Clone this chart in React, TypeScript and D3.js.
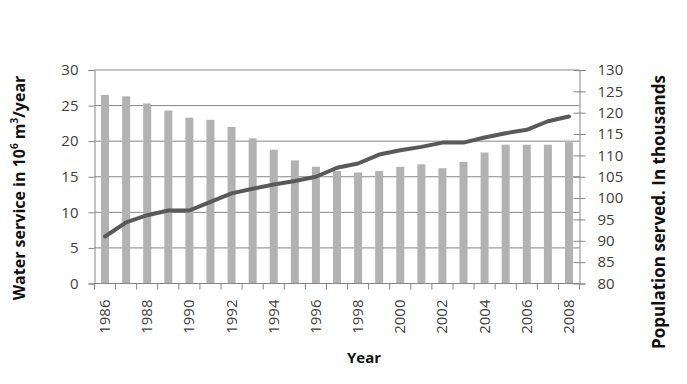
import { useEffect, useRef } from 'react'
import * as d3 from 'd3'

// data
const years = d3.range(1986, 2009).map(String)
const waterService = [26.5, 26.3, 25.3, 24.3, 23.3, 23.0, 22.0, 20.4, 18.8, 17.3, 16.4, 15.8, 15.6, 15.8, 16.4, 16.75, 16.2, 17.1, 18.4, 19.5, 19.5, 19.5, 19.85]
const population = [91, 94.3, 96, 97.1, 97.1, 99.1, 101.1, 102.2, 103.2, 104, 105, 107.1, 108.1, 110.2, 111.2, 112, 113, 113, 114.2, 115.2, 116, 118, 119.1]
const leftTicks = [0, 5, 10, 15, 20, 25, 30]
const rightTicks = [80, 85, 90, 95, 100, 105, 110, 115, 120, 125, 130]

const FONT = "'Open Sans', 'Noto Sans', sans-serif"

export default function App() {
  const svgRef = useRef<SVGSVGElement | null>(null)

  useEffect(() => {
    if (!svgRef.current) return
    const totalW = 687, totalH = 384
    const left = 94.5, right = 579.5, top = 70, bottom = 283.5

    const root = d3.select(svgRef.current)
    root.selectAll('*').remove()
    root.attr('width', totalW).attr('height', totalH)

    const svg = root.append('g')

    const x = d3.scaleBand().domain(years).range([left, right]).padding(0)
    const yL = d3.scaleLinear().domain([0, 30]).range([bottom, top])
    const yR = d3.scaleLinear().domain([80, 130]).range([bottom, top])

    const gridCol = '#868686'
    const textCol = '#404040'

    // horizontal grid
    svg.selectAll('.grid')
      .data(leftTicks.filter(d => d > 0))
      .join('line')
      .attr('x1', left).attr('x2', right)
      .attr('y1', d => yL(d)).attr('y2', d => yL(d))
      .attr('stroke', gridCol).attr('stroke-width', 1)

    // bars
    const barW = 8
    svg.selectAll('.bar')
      .data(waterService)
      .join('rect')
      .attr('x', (_, i) => x(years[i])! + x.bandwidth() / 2 - barW / 2)
      .attr('y', d => yL(d))
      .attr('width', barW)
      .attr('height', d => bottom - yL(d))
      .attr('fill', '#b2b2b2')

    // population line
    const line = d3.line<number>()
      .x((_, i) => x(years[i])! + x.bandwidth() / 2)
      .y(d => yR(d))
    svg.append('path')
      .datum(population)
      .attr('d', line)
      .attr('fill', 'none')
      .attr('stroke', '#595959')
      .attr('stroke-width', 4)
      .attr('stroke-linejoin', 'round')
      .attr('stroke-linecap', 'round')

    // left axis
    svg.append('g')
      .attr('transform', `translate(${left},0)`)
      .call(d3.axisLeft(yL).tickValues(leftTicks).tickSize(6).tickPadding(10))
      .call(g => {
        g.select('.domain').attr('stroke', gridCol)
        g.selectAll('.tick line').attr('stroke', gridCol)
        g.selectAll('text').attr('fill', textCol).attr('font-size', 15).attr('font-family', FONT)
      })

    // right axis
    svg.append('g')
      .attr('transform', `translate(${right},0)`)
      .call(d3.axisRight(yR).tickValues(rightTicks).tickSize(6).tickPadding(12))
      .call(g => {
        g.select('.domain').attr('stroke', gridCol)
        g.selectAll('.tick line').attr('stroke', gridCol).attr('x1', -6)
        g.selectAll('text').attr('fill', textCol).attr('font-size', 15).attr('font-family', FONT)
      })

    // x axis: ticks at band edges
    const xAxis = svg.append('g')
    xAxis.append('line')
      .attr('x1', left).attr('x2', right)
      .attr('y1', bottom).attr('y2', bottom)
      .attr('stroke', gridCol)
    xAxis.selectAll('.xtick')
      .data(years.concat(['end']))
      .join('line')
      .attr('x1', (d, i) => i < years.length ? x(d)! : right)
      .attr('x2', (d, i) => i < years.length ? x(d)! : right)
      .attr('y1', bottom).attr('y2', bottom + 6)
      .attr('stroke', gridCol)
    xAxis.selectAll('.xlabel')
      .data(years.filter((_, i) => i % 2 === 0))
      .join('text')
      .attr('transform', d => `translate(${x(d)! + x.bandwidth() / 2 + 5},${bottom + 16}) rotate(-90)`)
      .attr('text-anchor', 'end')
      .attr('fill', textCol)
      .attr('font-size', 15)
      .attr('font-family', FONT)
      .text(d => d)

    // axis titles
    svg.append('text')
      .attr('x', 364).attr('y', 363)
      .attr('text-anchor', 'middle')
      .attr('font-weight', 'bold')
      .attr('font-size', 15)
      .attr('font-family', FONT)
      .attr('fill', '#111')
      .text('Year')

    const lt = svg.append('text')
      .attr('transform', `translate(25,188) rotate(-90)`)
      .attr('text-anchor', 'middle')
      .attr('font-weight', 'bold')
      .attr('font-size', 16)
      .attr('font-family', FONT)
      .attr('fill', '#111')
    lt.append('tspan').text('Water service in 10')
    lt.append('tspan').attr('font-size', 10).attr('dy', -7).text('6')
    lt.append('tspan').attr('dy', 7).text(' m')
    lt.append('tspan').attr('font-size', 10).attr('dy', -7).text('3')
    lt.append('tspan').attr('dy', 7).text('/year')

    svg.append('text')
      .attr('transform', `translate(665,212) rotate(-90)`)
      .attr('text-anchor', 'middle')
      .attr('font-weight', 'bold')
      .attr('font-size', 17)
      .attr('font-family', FONT)
      .attr('fill', '#111')
      .text('Population served. In thousands')
  }, [])

  return (
    <svg ref={svgRef} style={{ position: 'absolute', left: 0, top: 0, background: '#fff' }} />
  )
}
